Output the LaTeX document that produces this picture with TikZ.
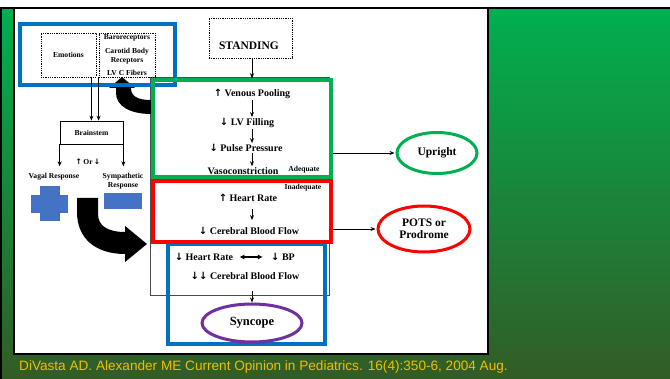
\documentclass[tikz,border=0pt]{standalone}
\usepackage{fontspec}
\setmainfont{Liberation Serif}
\newfontfamily\reffont{Liberation Sans}
\newfontfamily\arrfont{DejaVu Sans}
\newcommand{\upar}{{\arrfont\bfseries ↑}}
\newcommand{\dnar}{{\arrfont\bfseries ↓}}
\usetikzlibrary{arrows.meta,shapes.geometric}
\definecolor{gtop}{RGB}{0,176,80}
\definecolor{gbot}{RGB}{50,92,38}
\definecolor{hlgreen}{RGB}{0,176,80}
\definecolor{hlred}{RGB}{255,0,0}
\definecolor{hlblue}{RGB}{0,112,192}
\definecolor{hlpurple}{RGB}{112,48,160}
\definecolor{shapeblue}{RGB}{68,114,196}
\definecolor{refyellow}{RGB}{240,190,0}
\tikzset{
  txt/.style={font=\bfseries\fontsize{10}{11}\selectfont, inner sep=0pt, align=center},
  small/.style={font=\bfseries\fontsize{7.6}{8.6}\selectfont, inner sep=0pt, align=center},
  dotbox/.style={draw, densely dotted, line width=0.8pt, inner sep=0pt},
  thinbox/.style={draw, line width=0.7pt, inner sep=0pt},
  hlbox/.style={draw, line width=3.5pt, inner sep=0pt},
  oval/.style={ellipse, draw, line width=3pt, inner sep=0pt, font=\bfseries\fontsize{11.5}{12.5}\selectfont, align=center},
  arr/.style={-{Stealth[length=5pt,width=4pt]}, line width=0.8pt},
}
\begin{document}
\begin{tikzpicture}[x=1pt,y=-1pt]
\useasboundingbox (0,0) rectangle (670,379);
% background
\fill[white] (0,0) rectangle (670,379);
\shade[top color=gtop, bottom color=gbot] (0,8) rectangle (670,379);
\fill[black] (0,7) rectangle (670,9.5);
\fill[black] (0,7) rectangle (2,379);
\fill[white] (14,9) rectangle (488,354);
\draw[black, line width=2pt] (14,8) -- (14,354) -- (488,354) -- (488,8);

% underlying thin frame
\node[thinbox, draw=black!70, minimum width=179pt, minimum height=218pt] (frame) at (239.5,186) {};

% top-left boxes
\node[dotbox, minimum width=55pt, minimum height=44pt] (emo) at (68.5,55) {};
\node[small] at (emo.center) {Emotions};
\node[dotbox, minimum width=56pt, minimum height=44pt] (baro) at (127,55) {};
\node[small] (t1) at (127,38) {Baroreceptors};
\node[small] (t2) at (127,52) {Carotid Body};
\node[small] (t3) at (127,61) {Receptors};
\node[small] (t4) at (127,73) {LV C Fibers};

% standing
\node[dotbox, minimum width=83pt, minimum height=40pt] (stand) at (250.5,38) {};
\node[font=\bfseries\fontsize{11.5}{12.5}\selectfont, inner sep=0pt] (standt) at (249,46) {STANDING};

% brainstem
\node[thinbox, minimum width=63pt, minimum height=23pt] (brain) at (91.5,132.5) {};
\node[small] at (brain.center) {Brainstem};
\node[small] (orr) at (88,162) {\upar\,Or\,\dnar};
\node[small] (vagal) at (54,177) {Vagal Response};
\node[small] (symp) at (123,181) {Sympathetic\\Response};

% cross and minus
\fill[shapeblue] (40,186) rectangle (60,221);
\fill[shapeblue] (31,195) rectangle (68,213);
\fill[shapeblue] (104,193) rectangle (142,209);

% big black arrows
\fill[black] (77,198) -- (98,198) -- (98,214) .. controls (98,226) and (108,232) .. (125,232)
  -- (125,226) -- (147,244) -- (125,262) -- (125,254) .. controls (95,254) and (77,238) .. (77,212) -- cycle;
\fill[black] (122,77) -- (135,88) -- (131,88) .. controls (131,96) and (137,100) .. (151,100)
  -- (151,114) .. controls (130,114) and (116,106) .. (116,93) -- (116,88) -- (109,88) -- cycle;

% highlight boxes
\node[hlbox, draw=hlblue, minimum width=155pt, minimum height=61pt] (bluetop) at (97.5,54.5) {};
\node[hlbox, draw=hlblue, minimum width=157pt, minimum height=100pt] (bluebot) at (246.5,294) {};
\node[hlbox, draw=hlgreen, minimum width=178pt, minimum height=97pt] (green) at (242,128.5) {};
\node[hlbox, draw=hlred, minimum width=178pt, minimum height=61pt] (red) at (242,211.5) {};

% green content
\coordinate (axis) at (252,0);
\node[txt] (ven) at (252,94) {\upar\ Venous Pooling};
\node[txt] (lvf) at (247,123) {\dnar\ LV Filling};
\node[txt] (pp) at (246,148) {\dnar\ Pulse Pressure};
\node[txt] (vaso) at (243,171) {Vasoconstriction};
\node[small] (adeq) at (304,170) {Adequate};

% red content
\node[small] (inadeq) at (303,188) {Inadequate};
\node[txt] (hr) at (248,198) {\upar\ Heart Rate};
\node[txt] (cbf) at (249,231) {\dnar\ Cerebral Blood Flow};

% blue content
\node[txt] (hr2) at (204,257) {\dnar\ Heart Rate};
\node[txt] (bp) at (283,257) {\dnar\ BP};
\node[txt] (cbf2) at (245,276) {\dnar\dnar\ Cerebral Blood Flow};
\coordinate (c1) at (252,291);

% ovals
\node[oval, draw=hlgreen, minimum width=80pt, minimum height=41pt] (up) at (437,153) {Upright};
\node[oval, draw=hlred, minimum width=92pt, minimum height=46pt] (pots) at (424,229) {POTS or\\Prodrome};
\node[oval, draw=hlpurple, minimum width=100pt, minimum height=38pt, font=\bfseries\fontsize{12.5}{13.5}\selectfont] (syn) at (252,323) {Syncope};

% connectors
\draw[arr] ([xshift=-5pt]emo.south east) -- ([xshift=-5pt]emo.south east |- brain.north);
\draw[arr] (baro.south west) -- (baro.south west |- brain.north);
\draw[arr] (brain.south west) -- ++(0,22);
\draw[arr] (brain.south east) -- ++(0,22);
\draw[arr] (stand.south -| axis) -- (green.north -| axis);
\draw[arr] ([yshift=-1pt]ven.south -| axis) -- ([yshift=1pt]lvf.north -| axis);
\draw[arr] ([yshift=-1pt]lvf.south -| axis) -- ([yshift=1pt]pp.north -| axis);
\draw[arr] ([yshift=-1pt]pp.south -| axis) -- ([yshift=1pt]vaso.north -| axis);
\draw[arr] ([yshift=-7pt]hr.south -| axis) -- ([yshift=7pt]cbf.north -| axis);
\draw[{Latex[length=5pt,width=5pt]}-{Latex[length=5pt,width=5pt]}, line width=1.3pt] ([xshift=6pt]hr2.east) -- ([xshift=-8pt]bp.west);
\draw[arr] (c1) -- (syn.north);
\draw[arr, shorten >=1pt] (up.west -| green.east) -- (up.west);
\draw[arr, shorten >=1pt] (pots.west -| red.east) -- (pots.west);

% citation
\node[anchor=west, inner sep=0pt, text=refyellow, font=\reffont\fontsize{13.6}{15}\selectfont] (cite) at (19,367) {DiVasta AD. Alexander ME Current Opinion in Pediatrics. 16(4):350-6, 2004 Aug.};
\end{tikzpicture}
\end{document}
